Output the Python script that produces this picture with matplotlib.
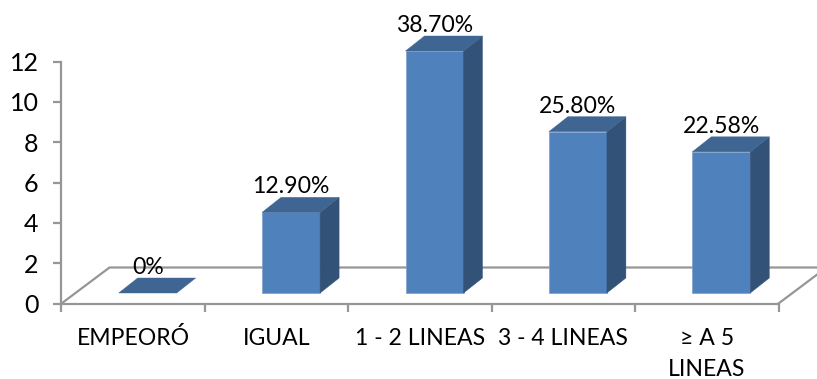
import matplotlib
matplotlib.use("Agg")
import matplotlib.pyplot as plt
from matplotlib.patches import Polygon

plt.rcParams['font.family'] = ['Lato', 'DejaVu Sans']

categories = ["EMPEORÓ", "IGUAL", "1 - 2 LINEAS", "3 - 4 LINEAS", "≥ A 5\nLINEAS"]
values = [0, 4, 12, 8, 7]
labels = ["0%", "12.90%", "38.70%", "25.80%", "22.58%"]
y_ticks = [0, 2, 4, 6, 8, 10, 12]

W, H = 817, 379
fig = plt.figure(figsize=(W / 100, H / 100), dpi=100)
left, right, bottom, top = 61.5, 778.5, 303.5, 61.5
ax = fig.add_axes([left / W, 1 - bottom / H, (right - left) / W, (bottom - top) / H])
n = len(categories)
ax.set_xlim(0, n)
ax.set_ylim(0, 12)

px = n / (right - left)          # data units per pixel, x
py = 12 / (bottom - top)         # data units per pixel, y

AXIS = "#969696"
FRONT, TOP, SIDE = "#4f81bd", "#3f6592", "#335278"
TEXT_SIZE = 16.6

# Floor outline of the pseudo-3D plot box
floor_dx, floor_dy = 48 * px, 36 * py
ax.plot([0, floor_dx, n + floor_dx], [0, floor_dy, floor_dy],
        color=AXIS, lw=1.6, clip_on=False, zorder=1)
ax.plot([n, n + floor_dx], [0, floor_dy], color=AXIS, lw=1.6, clip_on=False, zorder=1)

# Bars: front, top and side faces
bar_w = 58 * px
base = 10.5 * py
shift = 14.5 * px
bar_dx, bar_dy = 19 * px, 15 * py
for i, v in enumerate(values):
    x0 = i + 0.5 + shift - bar_w / 2
    x1 = x0 + bar_w
    y0, y1 = base, base + v
    if v > 0:
        ax.add_patch(Polygon([(x0, y0), (x1, y0), (x1, y1), (x0, y1)],
                             fc=FRONT, ec="#7f9fc9", lw=0.5, zorder=3, clip_on=False))
        ax.add_patch(Polygon([(x1, y0), (x1 + bar_dx, y0 + bar_dy), (x1 + bar_dx, y1 + bar_dy), (x1, y1)],
                             fc=SIDE, ec=SIDE, lw=0.3, zorder=3, clip_on=False))
    ax.add_patch(Polygon([(x0, y1), (x1, y1), (x1 + bar_dx, y1 + bar_dy), (x0 + bar_dx, y1 + bar_dy)],
                         fc=TOP, ec=TOP, lw=0.3, zorder=3, clip_on=False))
    ax.text((x0 + x1) / 2, y1 + bar_dy + 10.5 * py, labels[i], ha="center", va="center",
            fontsize=TEXT_SIZE, color="black", zorder=4, clip_on=False)

# Axes
for s in ("top", "right"):
    ax.spines[s].set_visible(False)
for s in ("left", "bottom"):
    ax.spines[s].set_color(AXIS)
    ax.spines[s].set_linewidth(1.6)
ax.patch.set_alpha(0)
ax.set_yticks(y_ticks)
ax.set_xticks(range(n + 1))
ax.set_xticklabels([])
ax.tick_params(axis="both", color=AXIS, width=1.6, length=6)
ax.tick_params(axis="y", labelsize=18, pad=10.5)

# Category names, one baseline per line
for i, c in enumerate(categories):
    for k, line in enumerate(c.split("\n")):
        ax.text(i + 0.5, -(41.5 + 31.5 * k) * py, line, ha="center", va="baseline",
                fontsize=TEXT_SIZE, color="black", clip_on=False)

fig.savefig("out.png", dpi=100, facecolor="white")
